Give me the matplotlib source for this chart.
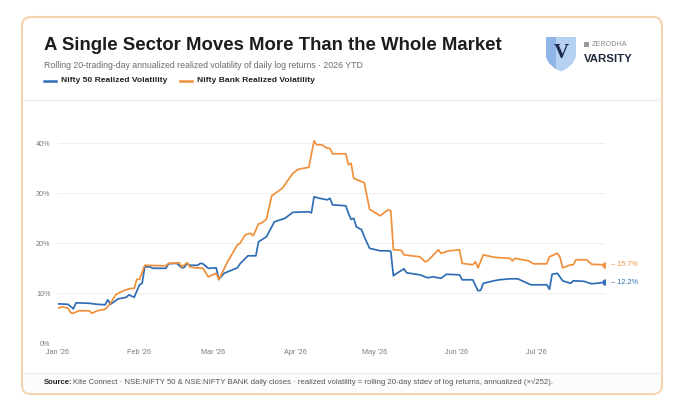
import pandas as pd
import matplotlib
matplotlib.use("Agg")
import matplotlib.pyplot as plt
from matplotlib.patches import FancyBboxPatch, Polygon
import matplotlib.ticker as mticker

plt.rcParams['font.family'] = ['Liberation Sans', 'DejaVu Sans']

# Nifty 50 realized vol (%)
n50_dates = ['2026-01-01', '2026-01-05', '2026-01-07', '2026-01-08', '2026-01-13', '2026-01-16',
             '2026-01-19', '2026-01-20', '2026-01-21', '2026-01-24', '2026-01-27', '2026-01-28',
             '2026-01-30', '2026-02-01', '2026-02-02', '2026-02-03', '2026-02-05', '2026-02-06',
             '2026-02-11', '2026-02-12', '2026-02-15', '2026-02-17', '2026-02-18', '2026-02-19',
             '2026-02-20', '2026-02-23', '2026-02-24', '2026-02-25', '2026-02-27', '2026-03-02',
             '2026-03-03', '2026-03-05', '2026-03-10', '2026-03-11', '2026-03-14', '2026-03-17',
             '2026-03-18', '2026-03-21', '2026-03-24', '2026-03-28', '2026-03-31', '2026-04-06',
             '2026-04-07', '2026-04-08', '2026-04-10', '2026-04-13', '2026-04-14', '2026-04-15',
             '2026-04-20', '2026-04-21', '2026-04-22', '2026-04-23', '2026-04-24', '2026-04-26',
             '2026-04-27', '2026-04-29', '2026-05-03', '2026-05-06', '2026-05-07', '2026-05-08',
             '2026-05-09', '2026-05-12', '2026-05-13', '2026-05-18', '2026-05-21', '2026-05-23',
             '2026-05-26', '2026-05-28', '2026-06-02', '2026-06-03', '2026-06-07', '2026-06-09',
             '2026-06-10', '2026-06-11', '2026-06-15', '2026-06-17', '2026-06-21', '2026-06-24',
             '2026-06-29', '2026-07-05', '2026-07-06', '2026-07-07', '2026-07-09', '2026-07-11',
             '2026-07-14', '2026-07-15', '2026-07-19', '2026-07-22', '2026-07-27']
n50_vol = [7.9, 7.8, 6.9, 8.1, 8.0, 7.8,
           7.7, 8.7, 7.8, 8.9, 9.2, 9.7,
           9.2, 11.7, 12.0, 15.3, 15.3, 15.0,
           15.0, 15.9, 16.0, 15.1, 15.2, 16.0,
           15.6, 15.6, 16.0, 15.9, 15.0, 15.1,
           12.8, 14.0, 15.1, 15.9, 17.5, 17.5,
           20.3, 21.3, 24.3, 25.0, 26.2, 26.3,
           26.1, 29.3, 29.0, 28.7, 29.0, 27.7,
           27.5, 26.0, 24.8, 25.0, 23.3, 22.7,
           21.3, 19.0, 18.5, 18.5, 18.4, 13.5,
           13.9, 14.9, 14.1, 13.7, 13.1, 13.3,
           13.0, 13.8, 13.7, 12.7, 12.7, 10.5,
           10.6, 12.0, 12.5, 12.7, 12.9, 12.9,
           11.7, 11.7, 10.8, 13.8, 14.0, 12.5,
           12.0, 12.5, 12.4, 11.9, 12.2]

# Nifty Bank realized vol (%)
bank_dates = ['2026-01-01', '2026-01-03', '2026-01-05', '2026-01-06', '2026-01-07', '2026-01-09',
              '2026-01-13', '2026-01-14', '2026-01-16', '2026-01-19', '2026-01-21', '2026-01-23',
              '2026-01-25', '2026-01-28', '2026-01-30', '2026-01-31', '2026-02-01', '2026-02-03',
              '2026-02-11', '2026-02-12', '2026-02-16', '2026-02-17', '2026-02-19', '2026-02-20',
              '2026-02-22', '2026-02-25', '2026-02-27', '2026-03-02', '2026-03-03', '2026-03-06',
              '2026-03-10', '2026-03-11', '2026-03-13', '2026-03-15', '2026-03-16', '2026-03-18',
              '2026-03-19', '2026-03-21', '2026-03-23', '2026-03-27', '2026-03-31', '2026-04-02',
              '2026-04-06', '2026-04-08', '2026-04-09', '2026-04-11', '2026-04-13', '2026-04-14',
              '2026-04-15', '2026-04-20', '2026-04-21', '2026-04-22', '2026-04-23', '2026-04-27',
              '2026-04-29', '2026-05-03', '2026-05-06', '2026-05-07', '2026-05-08', '2026-05-11',
              '2026-05-12', '2026-05-18', '2026-05-20', '2026-05-21', '2026-05-25', '2026-05-26',
              '2026-05-29', '2026-06-02', '2026-06-03', '2026-06-07', '2026-06-08', '2026-06-09',
              '2026-06-11', '2026-06-15', '2026-06-21', '2026-06-22', '2026-06-23', '2026-06-28',
              '2026-06-30', '2026-07-05', '2026-07-06', '2026-07-09', '2026-07-10', '2026-07-11',
              '2026-07-14', '2026-07-15', '2026-07-16', '2026-07-20', '2026-07-22', '2026-07-27']
bank_vol = [7.0, 7.3, 7.0, 6.1, 6.0, 6.5,
            6.5, 6.0, 6.5, 6.8, 8.0, 9.7,
            10.3, 10.9, 11.0, 12.8, 12.8, 15.6,
            15.5, 16.0, 16.1, 15.3, 16.1, 15.3,
            15.1, 15.0, 13.3, 14.0, 12.7, 16.0,
            19.7, 20.0, 21.7, 22.0, 21.5, 23.9,
            24.0, 24.8, 29.5, 31.0, 34.0, 34.8,
            35.2, 40.5, 39.7, 39.7, 39.0, 39.0,
            37.9, 37.9, 35.7, 36.0, 33.0, 32.1,
            26.8, 25.5, 26.7, 26.5, 18.7, 18.6,
            17.7, 17.3, 16.3, 16.5, 18.7, 18.0,
            18.5, 18.7, 16.0, 15.7, 16.3, 15.1,
            17.7, 17.2, 17.0, 16.5, 17.0, 16.5,
            15.9, 15.9, 17.3, 18.0, 17.2, 15.1,
            15.7, 15.7, 16.7, 16.7, 15.8, 15.7]

month_ticks = ['2026-01-01', '2026-02-01', '2026-03-01', '2026-04-01',
               '2026-05-01', '2026-06-01', '2026-07-01']
month_labels = ["Jan '26", "Feb '26", "Mar '26", "Apr '26", "May '26", "Jun '26", "Jul '26"]
y_ticks = [0, 10, 20, 30, 40]

BLUE = '#2f6db5'
ORANGE = '#f0903a'

n50 = pd.Series(n50_vol, index=pd.to_datetime(n50_dates))
bank = pd.Series(bank_vol, index=pd.to_datetime(bank_dates))

fig = plt.figure(figsize=(6.8, 4.2), dpi=100)
fig.patch.set_facecolor('white')

# background / card drawn in pixel coords
bg = fig.add_axes([0, 0, 1, 1], zorder=0)
bg.set_xlim(0, 680)
bg.set_ylim(420, 0)
bg.axis('off')

card = FancyBboxPatch((22, 17), 640, 377, boxstyle='round,pad=0,rounding_size=9',
                      fc='white', ec='#f6d3ae', lw=1.5)
bg.add_patch(card)
bg.add_patch(FancyBboxPatch((23, 373), 638, 20, boxstyle='round,pad=0,rounding_size=8',
                            fc='#fcfcfc', ec='none'))
bg.plot([23, 661], [100, 100], color='#ececec', lw=0.8)
bg.plot([23, 661], [372.5, 372.5], color='#ececec', lw=0.8)

bg.text(44, 46, 'A Single Sector Moves More Than the Whole Market', fontsize=13.4,
        fontweight='bold', color='#1c1c1c', va='center')
bg.text(44, 65, 'Rolling 20-trading-day annualized realized volatility of daily log returns \u00b7 2026 YTD',
        fontsize=6.35, color='#6b6b6b', va='center')

# legend
bg.plot([44, 56], [81, 81], color=BLUE, lw=1.8)
bg.text(61, 81, 'Nifty 50 Realized Volatility', fontsize=6.1, fontweight='bold',
        color='#222222', va='center')
bg.plot([180, 192], [81, 81], color=ORANGE, lw=1.8)
bg.text(197, 81, 'Nifty Bank Realized Volatility', fontsize=6.1, fontweight='bold',
        color='#222222', va='center')

# logo
shield = [(546, 37), (576, 37), (576, 57), (573, 63), (567, 68.5), (561, 71.5),
          (555, 68.5), (549, 63), (546, 57)]
bg.add_patch(Polygon(shield, closed=True, fc='#b7d1f3', ec='none'))
left_half = [(546, 37), (556, 37), (556, 69.5), (549, 63), (546, 57)]
bg.add_patch(Polygon(left_half, closed=True, fc='#8fb5e8', ec='none'))
bg.text(561, 53.5, 'V', family=['Liberation Serif', 'DejaVu Serif'], fontsize=15,
        fontweight='bold', color='#1d2a52', ha='center', va='center')
bg.add_patch(Polygon([(584, 42), (589, 42), (589, 47), (584, 47)], closed=True,
                     fc='#9a9a9a', ec='none'))
bg.text(592, 45, 'ZERODHA', fontsize=5.2, color='#8a8a8a', va='center')
bg.text(584, 59.5, 'VARSITY', fontsize=8.2, fontweight='bold', color='#1f2b3a', va='center')

# footer
bg.text(44, 382, 'Source:', fontsize=5.6, fontweight='bold', color='#222222', va='center')
bg.text(73, 382, 'Kite Connect \u00b7 NSE:NIFTY 50 & NSE:NIFTY BANK daily closes \u00b7 realized volatility '
        '= rolling 20-day stdev of log returns, annualized (\u00d7\u221a252).',
        fontsize=5.6, color='#555555', va='center')

# main chart
ax = fig.add_axes([57.5 / 680, (420 - 343.3) / 420, (605 - 57.5) / 680, 220 / 420], zorder=1)
ax.patch.set_alpha(0)
ax.plot(n50.index, n50.values, color=BLUE, lw=1.25, zorder=3)
ax.plot(bank.index, bank.values, color=ORANGE, lw=1.25, zorder=3)

ax.plot(bank.index[-1], bank.values[-1], 'o', color=ORANGE, ms=3.5, zorder=4)
ax.plot(n50.index[-1], n50.values[-1], 'o', color=BLUE, ms=3.5, zorder=4)
ax.annotate('\u2013 %.1f%%' % bank.values[-1], (bank.index[-1], bank.values[-1]),
            xytext=(4, 0), textcoords='offset points', va='center', fontsize=5.3,
            color=ORANGE, annotation_clip=False)
ax.annotate('\u2013 %.1f%%' % n50.values[-1], (n50.index[-1], n50.values[-1]),
            xytext=(4, 0), textcoords='offset points', va='center', fontsize=5.3,
            color=BLUE, annotation_clip=False)

ax.set_xlim(pd.Timestamp('2026-01-01'), pd.Timestamp('2026-07-27'))
ax.set_ylim(0, 44)
ax.set_xticks(pd.to_datetime(month_ticks))
ax.set_xticklabels(month_labels)
ax.set_yticks(y_ticks)
ax.yaxis.set_major_formatter(mticker.FuncFormatter(lambda v, p: '%d%%' % v))
ax.tick_params(axis='both', length=0, labelsize=5.2, labelcolor='#7a7a7a')
ax.tick_params(axis='x', pad=4)
ax.tick_params(axis='y', pad=5)
ax.grid(axis='y', color='#efefef', lw=0.7)
ax.set_axisbelow(True)
for s in ax.spines.values():
    s.set_visible(False)

fig.savefig('out.png', dpi=100)
